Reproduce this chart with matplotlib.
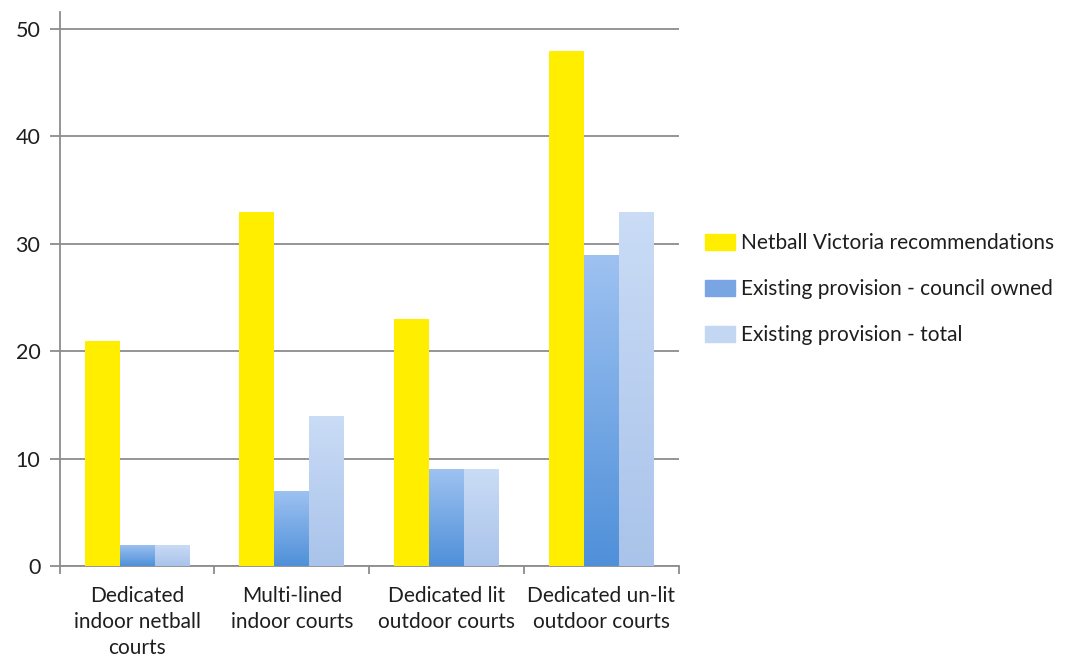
import numpy as np
import matplotlib
matplotlib.use("Agg")
import matplotlib.pyplot as plt
from matplotlib.patches import Patch
from matplotlib.colors import LinearSegmentedColormap

categories = ["Dedicated\nindoor netball\ncourts", "Multi-lined\nindoor courts",
              "Dedicated lit\noutdoor courts", "Dedicated un-lit\noutdoor courts"]
series_names = ["Netball Victoria recommendations", "Existing provision - council owned",
                "Existing provision - total"]
recommend = [21, 33, 23, 48]
council = [2, 7, 9, 29]
total = [2, 14, 9, 33]
yticks = [0, 10, 20, 30, 40, 50]

plt.rcParams['font.family'] = ['Lato', 'DejaVu Sans']
txt = "#1e1e1e"

fig = plt.figure(figsize=(10.67, 6.59), dpi=100)
ax = fig.add_axes([0.056, 0.141, 0.580, 0.841])

x = np.arange(len(categories))
w = 0.226
grey = "#8c8c8c"

b1 = ax.bar(x - w, recommend, w, color="#ffee00", zorder=3)
b2 = ax.bar(x, council, w, color="#6fa3e6", zorder=3)
b3 = ax.bar(x + w, total, w, color="#b9d0f0", zorder=3)

cm_blue = LinearSegmentedColormap.from_list("b", ["#4f90d9", "#9ec2f1"])
cm_light = LinearSegmentedColormap.from_list("l", ["#a9c3ea", "#cadcf6"])
grad = np.linspace(0, 1, 256).reshape(-1, 1)
for bars, cm in ((b2, cm_blue), (b3, cm_light)):
    for r in bars:
        x0, y0 = r.get_x(), r.get_y()
        x1, y1 = x0 + r.get_width(), y0 + r.get_height()
        im = ax.imshow(grad, cmap=cm, origin="lower", aspect="auto",
                       extent=[x0, x1, y0, y1], zorder=4, interpolation="bilinear")
        im.set_clip_path(r)

ax.set_xlim(-0.5, len(categories) - 0.5)
ax.set_ylim(0, 51.6)
ax.set_yticks(yticks)
ax.set_yticklabels([str(t) for t in yticks], fontsize=15.5, color=txt)
ax.yaxis.grid(True, color=grey, linewidth=1.3, zorder=1)
ax.set_axisbelow(True)

ax.set_xticks(np.arange(-0.5, len(categories), 1.0))
ax.set_xticklabels([])
ax.set_xticks(x, minor=True)
ax.set_xticklabels(categories, minor=True, fontsize=15, linespacing=1.4, color=txt)
ax.tick_params(axis='x', which='minor', length=0, pad=14)
ax.tick_params(axis='x', which='major', length=6, color=grey, width=1.3, direction='out')
ax.tick_params(axis='y', length=7, color=grey, width=1.3, pad=7)

for s in ("top", "right"):
    ax.spines[s].set_visible(False)
for s in ("left", "bottom"):
    ax.spines[s].set_color(grey)
    ax.spines[s].set_linewidth(1.3)

handles = [Patch(color="#ffee00"), Patch(color="#7aa5e3"), Patch(color="#c3d6f2")]
leg = fig.legend(handles, series_names, loc="upper left", bbox_to_anchor=(0.643, 0.675),
                 frameon=False, fontsize=15, handlelength=1.45, handleheight=0.8,
                 labelspacing=1.25, handletextpad=0.3)
for t in leg.get_texts():
    t.set_color(txt)

fig.savefig("out.png", dpi=100, facecolor="white")
